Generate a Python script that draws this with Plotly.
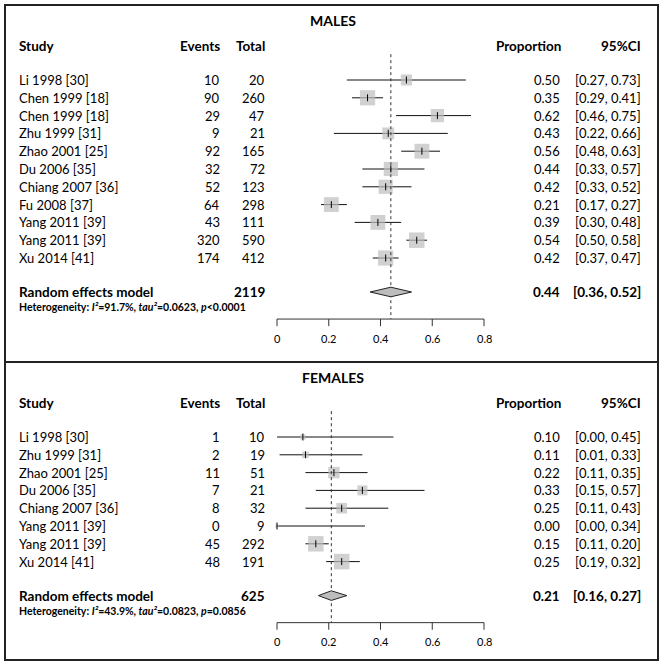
import plotly.graph_objects as go

# ---- MALES ----
studies_m = ["Li 1998 [30]", "Chen 1999 [18]", "Chen 1999 [18]", "Zhu 1999 [31]", "Zhao 2001 [25]",
             "Du 2006 [35]", "Chiang 2007 [36]", "Fu 2008 [37]", "Yang 2011 [39]", "Yang 2011 [39]",
             "Xu 2014 [41]"]
events_m = [10, 90, 29, 9, 92, 32, 52, 64, 43, 320, 174]
total_m = [20, 260, 47, 21, 165, 72, 123, 298, 111, 590, 412]
prop_m = [0.50, 0.35, 0.62, 0.43, 0.56, 0.44, 0.42, 0.21, 0.39, 0.54, 0.42]
low_m = [0.27, 0.29, 0.46, 0.22, 0.48, 0.33, 0.33, 0.17, 0.30, 0.50, 0.37]
high_m = [0.73, 0.41, 0.75, 0.66, 0.63, 0.57, 0.52, 0.27, 0.48, 0.58, 0.47]
weight_m = [5.6, 10.5, 7.9, 6.4, 10.0, 9.1, 9.1, 10.0, 10.0, 10.9, 10.5]
pooled_m = [0.44, 0.36, 0.52]
n_total_m = 2119
het_m = ["91.7%", "0.0623", "<0.0001"]

# ---- FEMALES ----
studies_f = ["Li 1998 [30]", "Zhu 1999 [31]", "Zhao 2001 [25]", "Du 2006 [35]", "Chiang 2007 [36]",
             "Yang 2011 [39]", "Yang 2011 [39]", "Xu 2014 [41]"]
events_f = [1, 2, 11, 7, 8, 0, 45, 48]
total_f = [10, 19, 51, 21, 32, 9, 292, 191]
prop_f = [0.10, 0.11, 0.22, 0.33, 0.25, 0.00, 0.15, 0.25]
low_f = [0.00, 0.01, 0.11, 0.15, 0.11, 0.00, 0.11, 0.19]
high_f = [0.45, 0.33, 0.35, 0.57, 0.43, 0.34, 0.20, 0.32]
weight_f = [3.0, 4.7, 14.3, 11.1, 12.5, 1.1, 26.6, 26.6]
pooled_f = [0.21, 0.16, 0.27]
n_total_f = 625
het_f = ["43.9%", "0.0823", "=0.0856"]

axis_ticks = [0, 0.2, 0.4, 0.6, 0.8]
tick_labels = ["0", "0.2", "0.4", "0.6", "0.8"]

W, H = 665, 666
ROW = 17.8          # pixels per row
FONT = "Lato"
GREY = "#bdbdbd"

fig = go.Figure()
annotations = []


def px(x):
    return x / W


def txt(text, x, y, yref, anchor="left", size=13, bold=False):
    if bold:
        text = "<b>" + text + "</b>"
    annotations.append(dict(text=text, x=px(x), xref="paper", y=y, yref=yref, xanchor=anchor,
                            yanchor="middle", showarrow=False,
                            font=dict(family=FONT, size=size, color="black")))


def panel(title, xa, ya, studies, events, total, prop, low, high, weight, pooled, n_total, het):
    n = len(studies)
    rows = list(range(n))
    y_re = n - 1 + 1.91
    y_het = n - 1 + 2.75
    y_axis = n - 1 + 3.43
    y_lab = n - 1 + 4.5

    # CI lines
    cx, cy = [], []
    for i in rows:
        cx += [low[i], high[i], None]
        cy += [i, i, None]
    fig.add_trace(go.Scatter(x=cx, y=cy, mode="lines", line=dict(color="#111111", width=1),
                             xaxis=xa, yaxis=ya, hoverinfo="skip"))
    # squares
    wmax = max(weight)
    sizes = [15.5 * (w / wmax) ** 0.5 for w in weight]
    fig.add_trace(go.Scatter(x=prop, y=rows, mode="markers",
                             marker=dict(symbol="square", size=sizes, color=GREY, line=dict(width=0)),
                             xaxis=xa, yaxis=ya, hoverinfo="skip"))
    fig.add_trace(go.Scatter(x=prop, y=rows, mode="markers",
                             marker=dict(symbol="line-ns", size=5, line=dict(color="black", width=1)),
                             xaxis=xa, yaxis=ya, hoverinfo="skip"))
    # dotted line at pooled estimate
    fig.add_trace(go.Scatter(x=[pooled[0], pooled[0]], y=[-1.45, y_axis], mode="lines",
                             line=dict(color="#333333", width=1, dash="dot"),
                             xaxis=xa, yaxis=ya, hoverinfo="skip"))
    # diamond
    fig.add_trace(go.Scatter(x=[pooled[1], pooled[0], pooled[2], pooled[0], pooled[1]],
                             y=[y_re, y_re - 0.27, y_re, y_re + 0.27, y_re],
                             mode="lines", fill="toself", fillcolor=GREY,
                             line=dict(color="#222222", width=1),
                             xaxis=xa, yaxis=ya, hoverinfo="skip"))
    # axis
    ax, ay = [axis_ticks[0], axis_ticks[-1], None], [y_axis, y_axis, None]
    for t in axis_ticks:
        ax += [t, t, None]
        ay += [y_axis, y_axis + 0.4, None]
    fig.add_trace(go.Scatter(x=ax, y=ay, mode="lines", line=dict(color="#333333", width=1),
                             xaxis=xa, yaxis=ya, hoverinfo="skip"))
    for t, lab in zip(axis_ticks, tick_labels):
        annotations.append(dict(text=lab, x=t, xref=xa, y=y_lab, yref=ya, showarrow=False,
                                xanchor="center", yanchor="middle",
                                font=dict(family=FONT, size=11, color="black")))

    # text columns
    txt(title, 333, -3.35, ya, "center", 14, True)
    txt("Study", 17, -1.91, ya, size=13.5, bold=True)
    txt("Events", 222, -1.91, ya, "right", 13.5, True)
    txt("Total", 267, -1.91, ya, "right", 13.5, True)
    txt("Proportion", 563, -1.91, ya, "right", 13.5, True)
    txt("95%CI", 643, -1.91, ya, "right", 13.5, True)
    for i in rows:
        txt(studies[i], 17, i, ya)
        txt(str(events[i]), 222, i, ya, "right")
        txt(str(total[i]), 267, i, ya, "right")
        txt(f"{prop[i]:.2f}", 562, i, ya, "right")
        txt(f"[{low[i]:.2f}, {high[i]:.2f}]", 643, i, ya, "right")
    txt("Random effects model", 17, y_re, ya, size=13.5, bold=True)
    txt(str(n_total), 267, y_re, ya, "right", 13.5, True)
    txt(f"{pooled[0]:.2f}", 562, y_re, ya, "right", 13.5, True)
    txt(f"[{pooled[1]:.2f}, {pooled[2]:.2f}]", 643, y_re, ya, "right", 13.5, True)
    het_text = f"Heterogeneity: <i>I²</i>={het[0]}, <i>tau²</i>={het[1]}, <i>p</i>{het[2]}"
    txt(het_text, 17, y_het, ya, size=10.5, bold=True)


panel("MALES", "x", "y", studies_m, events_m, total_m, prop_m, low_m, high_m, weight_m,
      pooled_m, n_total_m, het_m)
panel("FEMALES", "x2", "y2", studies_f, events_f, total_f, prop_f, low_f, high_f, weight_f,
      pooled_f, n_total_f, het_f)

# x scale: 0 at 277px, 0.8 at 484px
x0, unit = 277, (484 - 277) / 0.8
xrange = [-x0 / unit, (W - x0) / unit]
split = 362
hidden = dict(visible=False, showgrid=False, zeroline=False, fixedrange=True)

fig.update_layout(
    width=W,
    height=H,
    margin=dict(l=0, r=0, t=0, b=0),
    showlegend=False,
    plot_bgcolor="white",
    paper_bgcolor="white",
    xaxis=dict(domain=[0, 1], range=xrange, anchor="y", **hidden),
    yaxis=dict(domain=[1 - split / H, 1], range=[(split - 80) / ROW, -80 / ROW], anchor="x", **hidden),
    xaxis2=dict(domain=[0, 1], range=xrange, anchor="y2", **hidden),
    yaxis2=dict(domain=[0, 1 - split / H], range=[(H - 437) / ROW, (split - 437) / ROW], anchor="x2",
                **hidden),
    annotations=annotations,
    shapes=[
        dict(type="rect", xref="paper", yref="paper", x0=px(5), x1=px(658), y0=1 - 660 / H, y1=1 - 5 / H,
             line=dict(color="#222222", width=2)),
        dict(type="line", xref="paper", yref="paper", x0=px(5), x1=px(658), y0=1 - split / H,
             y1=1 - split / H, line=dict(color="#222222", width=2)),
    ],
)

# remove the page's default body margin so the figure sits at the window's corner
fig.write_html("out.html", config={"displayModeBar": False},
               post_script="document.body.style.margin='0';")
